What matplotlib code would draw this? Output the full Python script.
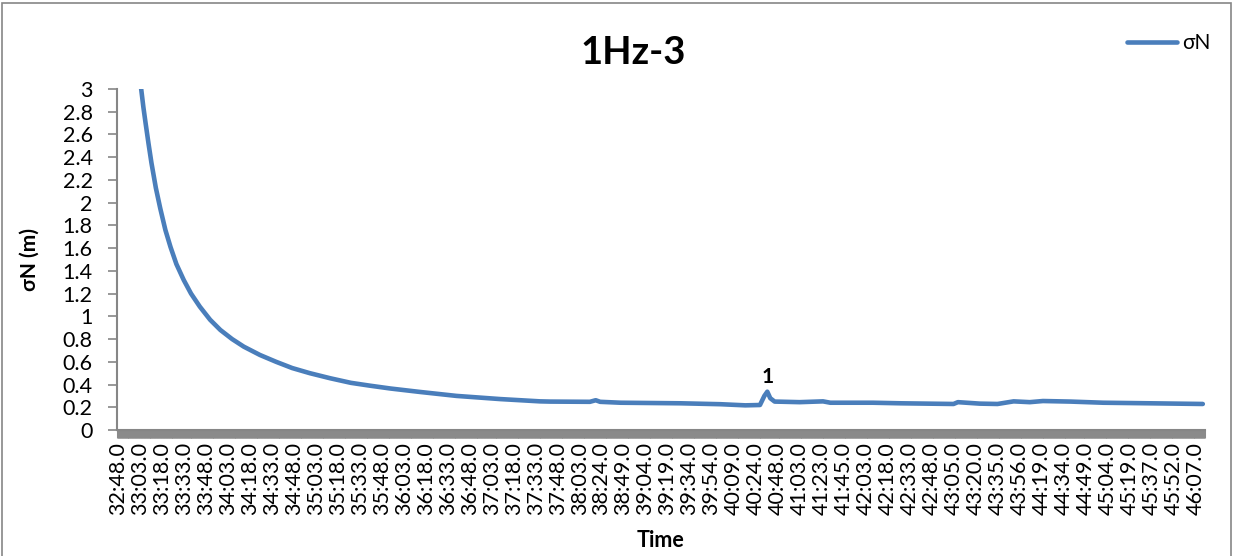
import matplotlib.pyplot as plt
from matplotlib.patches import Rectangle
from matplotlib.ticker import FixedLocator, FuncFormatter

plt.rcParams['font.family'] = ['Lato', 'DejaVu Sans']

# sample index (1 Hz samples) and sigma N in metres
n_samples = 742
sample_idx = [0, 12, 14, 16, 17.5, 19, 21, 23, 26, 29, 32.5, 36, 40, 45, 50, 56, 63,
              70, 78, 86, 97, 108, 119, 131, 145, 159, 172, 186, 206, 231, 261, 288,
              295, 322, 326, 329, 343, 384, 411, 428, 438, 441, 443, 445, 448, 452,
              465, 481, 486, 515, 534, 570, 573, 588, 600, 611, 622, 631, 650, 672,
              704, 740]
sigma_n = [6.0, 3.44, 3.21, 3.00, 2.84, 2.70, 2.52, 2.35, 2.13, 1.95, 1.76, 1.61, 1.46,
           1.32, 1.20, 1.085, 0.97, 0.88, 0.80, 0.733, 0.66, 0.60, 0.545, 0.50, 0.455,
           0.415, 0.39, 0.365, 0.335, 0.30, 0.272, 0.252, 0.25, 0.248, 0.262, 0.248,
           0.24, 0.235, 0.227, 0.217, 0.22, 0.30, 0.337, 0.28, 0.25, 0.249, 0.245,
           0.252, 0.24, 0.24, 0.235, 0.229, 0.245, 0.232, 0.229, 0.252, 0.245, 0.255,
           0.25, 0.24, 0.235, 0.229]

time_labels = ['32:48.0', '33:03.0', '33:18.0', '33:33.0', '33:48.0', '34:03.0',
               '34:18.0', '34:33.0', '34:48.0', '35:03.0', '35:18.0', '35:33.0',
               '35:48.0', '36:03.0', '36:18.0', '36:33.0', '36:48.0', '37:03.0',
               '37:18.0', '37:33.0', '37:48.0', '38:03.0', '38:24.0', '38:49.0',
               '39:04.0', '39:19.0', '39:34.0', '39:54.0', '40:09.0', '40:24.0',
               '40:48.0', '41:03.0', '41:23.0', '41:45.0', '42:03.0', '42:18.0',
               '42:33.0', '42:48.0', '43:05.0', '43:20.0', '43:35.0', '43:56.0',
               '44:19.0', '44:34.0', '44:49.0', '45:04.0', '45:19.0', '45:37.0',
               '45:52.0', '46:07.0']
label_step = 15

peak_idx = 443
peak_val = 0.337

fig = plt.figure(figsize=(12.34, 5.56), dpi=100)
ax = fig.add_axes([0.0948, 0.2266, 0.8817, 0.6134])

ax.plot(sample_idx, sigma_n, color='#4A7EBB', lw=3.3, solid_capstyle='round',
        solid_joinstyle='round', label='σN')
ax.text(peak_idx, peak_val + 0.045, '1', ha='center', va='bottom',
        fontsize=15, fontweight='bold')

ax.set_xlim(-0.5, n_samples - 0.5)
ax.set_ylim(0, 3)

# y axis
ax.set_yticks([i * 0.2 for i in range(16)])
ax.yaxis.set_major_formatter(FuncFormatter(lambda v, p: '%g' % round(v, 1)))
ax.tick_params(axis='y', direction='out', length=6.5, width=1.2, color='#868686',
               labelsize=15.5, pad=11)

# x axis: one tick per sample gives the solid gray band
ax.set_xticks([i * label_step for i in range(len(time_labels))])
ax.set_xticklabels(time_labels, rotation=90, fontsize=15.5)
ax.xaxis.set_minor_locator(FixedLocator(list(range(n_samples))))
ax.tick_params(axis='x', which='both', direction='out', length=5.5, width=2.2,
               color='#8a8a8a', pad=3)

for side in ['top', 'right']:
    ax.spines[side].set_visible(False)
ax.spines['left'].set_color('#868686')
ax.spines['left'].set_linewidth(1.5)
ax.spines['bottom'].set_color('#868686')
ax.spines['bottom'].set_linewidth(1.5)

ax.set_ylabel('σN (m)', fontsize=15, fontweight='bold')
ax.yaxis.set_label_coords(-0.0708, 0.4985)
ax.set_xlabel('Time', fontsize=15.5, fontweight='bold', labelpad=11)

fig.text(0.513, 0.905, '1Hz-3', ha='center', va='center', fontsize=27.5,
         fontweight='bold')

ax.legend(loc='center left', bbox_to_anchor=(0.9205, 1.135), frameon=False,
          fontsize=15, handlelength=2.4, handletextpad=0.25, borderaxespad=0)

# chart border
fig.patches.append(Rectangle((2 / 1234, -0.05), 1229 / 1234, 1.05 - 3 / 556,
                             transform=fig.transFigure, fill=False,
                             edgecolor='#868686', lw=1.2))

fig.savefig('out.png', dpi=100)
